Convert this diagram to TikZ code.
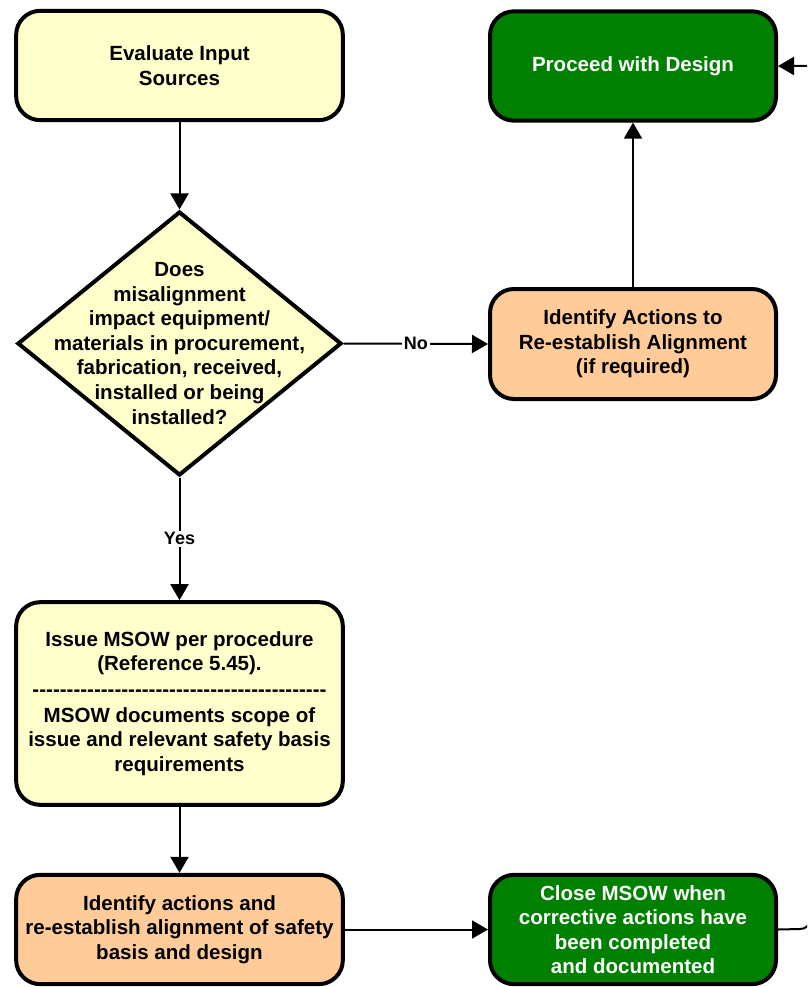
\documentclass[tikz,border=0pt]{standalone}
\usepackage{fontspec}
\setmainfont{Liberation Sans}
\usetikzlibrary{arrows.meta,shapes.geometric}
\definecolor{paleyellow}{HTML}{FFFFCC}
\definecolor{peach}{HTML}{FFCC99}
\definecolor{darkgreen}{HTML}{008000}
% one hyphen that never merges into an en/em dash
\newcommand{\hy}{-\kern0pt}
\newcommand{\hyrow}{\foreach \k in {1,...,43}{\hy}}
\tikzset{
  txt/.style={font=\bfseries\fontsize{15.4}{18.4}\selectfont, align=center},
  stepbox/.style={rectangle, rounded corners=18pt, draw=black, line width=3pt,
    inner sep=0pt, txt},
  leftbox/.style={stepbox, minimum width=245pt, minimum height=82pt},
  rightbox/.style={stepbox, minimum width=214.5pt, minimum height=82pt},
  yellowfill/.style={fill=paleyellow, text=black},
  peachfill/.style={fill=peach, text=black},
  greenfill/.style={fill=darkgreen, text=white},
  decision/.style={diamond, draw=black, line width=3pt, fill=paleyellow,
    inner sep=0pt, minimum width=243pt, minimum height=198pt},
  conn/.style={line width=1.5pt, draw=black,
    -{Triangle[length=12pt, width=13.5pt]}},
  lbl/.style={fill=white, inner sep=1.5pt,
    font=\bfseries\fontsize{13.5}{16}\selectfont}
}
\begin{document}
\begin{tikzpicture}[x=0.75pt, y=-0.75pt]
  \useasboundingbox (0,0) rectangle (807,987);
  \clip (0,0) rectangle (807,987);

  % process steps
  \node[leftbox, yellowfill] (eval) at (179.5,65.5) {Evaluate Input\\Sources};
  \node[decision] (q) at (179.5,343.5) {};
  \node[txt] (qtext) at (q.center) {Does\\misalignment\\impact equipment/\\materials in procurement,\\fabrication, received,\\installed or being\\installed?};
  \node[leftbox, yellowfill, minimum height=152pt] (msow) at (179.5,703.5)
    {Issue MSOW per procedure\\(Reference 5.45).\\[1pt]\hyrow\\[1pt]MSOW documents scope of\\issue and relevant safety basis\\requirements};
  \node[leftbox, peachfill] (fix) at (179.5,929.5)
    {Identify actions and\\re-establish alignment of safety\\basis and design};

  \node[rightbox, greenfill] (proceed) at (633,66) {Proceed with Design};
  \node[rightbox, peachfill, minimum height=82.5pt] (realign) at (633,344)
    {Identify Actions to\\Re-establish Alignment\\(if required)};
  \node[rightbox, greenfill] (close) at (633,929.5)
    {Close MSOW when\\corrective actions have\\been completed\\and documented};

  % connectors
  \draw[conn] (eval.south) -- (q.north);
  \draw[conn] (q.east) -- node[lbl] {No} (realign.west);
  \draw[conn] (realign.north) -- (proceed.south);
  \draw[conn] (q.south) -- node[lbl] {Yes} (msow.north);
  \draw[conn] (msow.south) -- (fix.north);
  \draw[conn] (fix.east |- close.west) -- (close.west);

  % return path from closing the MSOW back to the design step
  \coordinate (turnlow) at (800,929);
  \coordinate (uplow) at (810,919);
  \coordinate (jogout) at (830,480);
  \coordinate (turntop) at (830,66);
  \draw[conn] (close.east) -- (turnlow)
    .. controls (806,929) and (810,925) .. (uplow)
    -- (810,500) -- (jogout) -- (turntop) -- (proceed.east);
\end{tikzpicture}
\end{document}
